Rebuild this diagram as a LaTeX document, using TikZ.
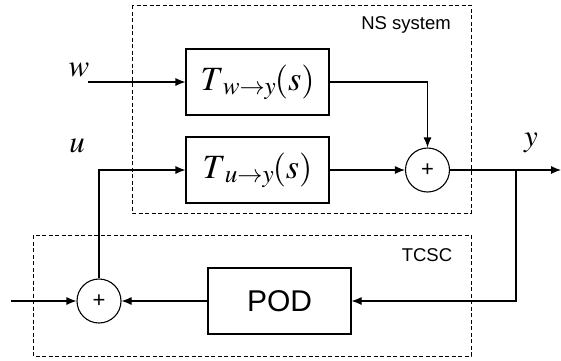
\documentclass[tikz,border=0pt]{standalone}
\usepackage{mathptmx}
\usepackage[no-math]{fontspec}
\setmainfont{Liberation Sans}
\usetikzlibrary{arrows.meta}
\tikzset{
  sig/.style={line width=1.1pt, -{Latex[length=10pt,width=8pt]}},
  blockbox/.style={draw, line width=1.1pt, minimum width=143pt, minimum height=66pt, inner sep=0pt},
  sumnode/.style={draw, circle, line width=1.1pt, minimum size=44pt, inner sep=0pt, font=\fontsize{22}{22}\selectfont},
  groupbox/.style={draw, line width=0.9pt, dash pattern=on 4pt off 2.5pt},
  grouplabel/.style={font=\fontsize{18.5}{18.5}\selectfont},
  mathlabel/.style={font=\fontsize{31}{31}\selectfont},
  tflabel/.style={font=\fontsize{34}{34}\selectfont}
}
% transfer function with a lowered subscript
\newcommand{\tfn}[1]{$T\kern-1pt\lower4pt\hbox{$\scriptstyle #1\rightarrow y$}\kern-1pt(s)$}
\begin{document}
\begin{tikzpicture}[x=1pt, y=-1pt]
\useasboundingbox (0,0) rectangle (561,360);

% dashed subsystem frames
\draw[groupbox] (132,5) rectangle (471,213);
\draw[groupbox] (33,235) rectangle (471,356);
\node[grouplabel] (nslab) at (406,25) {NS system};
\node[grouplabel] (tcsclab) at (427,255) {TCSC};

% transfer blocks
\node[blockbox, tflabel] (tw) at (257.5,82) {\tfn{w}};
\node[blockbox, tflabel] (tu) at (257.5,170) {\tfn{u}};
\node[blockbox, font=\fontsize{30}{30}\selectfont] (pod) at (279.5,301) {POD};

% summing junctions
\node[sumnode] (s1) at (427.5,170) {+};
\node[sumnode] (s2) at (99,301) {+};

% signal end points
\coordinate (win) at (88,82);
\coordinate (yout) at (561,170);
\coordinate (ext) at (11,301);
\coordinate (br) at (516,170);

% signal labels
\node[mathlabel] (wlab) at (79,70) {$w$};
\node[mathlabel] (ulab) at (77,146) {$u$};
\node[mathlabel] (ylab) at (531,143) {$y$};

% connections
\draw[sig] (win) -- (tw.west);
\draw[sig] (tw.east) -| (s1.north);
\draw[sig] (tu.east) -- (s1.west);
\draw[sig] (s1.east) -- (yout);
\draw[sig] (br) |- (pod.east);
\draw[sig] (pod.west) -- (s2.east);
\draw[sig] (ext) -- (s2.west);
\draw[sig] (s2.north) |- (tu.west);
\end{tikzpicture}
\end{document}
